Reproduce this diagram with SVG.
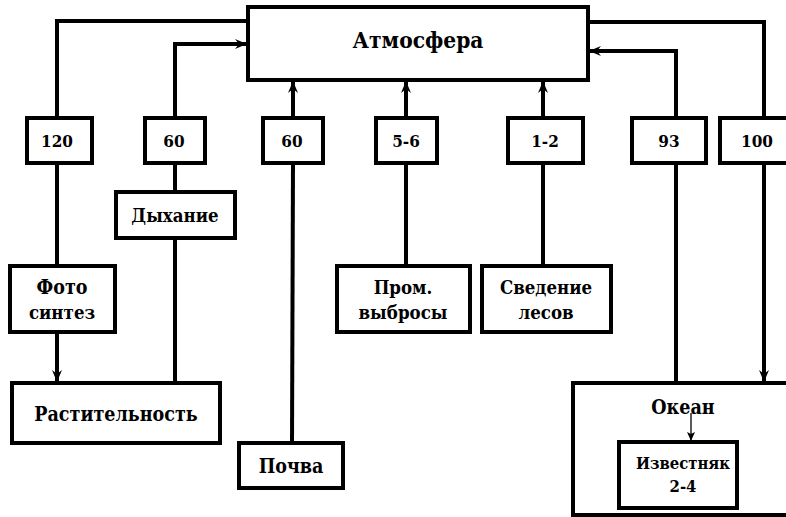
<svg xmlns="http://www.w3.org/2000/svg" width="786" height="517" viewBox="0 0 786 517">
<defs>
<style>
.box{fill:#fff;stroke:#000;stroke-width:4}
.ln{fill:none;stroke:#000;stroke-width:4}
.thin{fill:none;stroke:#000;stroke-width:1.3}
text{font-family:'DejaVu Serif Condensed','DejaVu Serif',serif;font-stretch:condensed;font-weight:bold;fill:#000;text-anchor:middle}
.big{font-size:22.5px}
.lbl{font-size:18.5px}
.lg{font-size:19.5px}
.num{font-size:17px}
.sm{font-size:16.5px}
</style>
<marker id="ah" markerWidth="12" markerHeight="10" refX="11" refY="5" orient="auto" markerUnits="userSpaceOnUse">
<path d="M0,0 L12,5 L0,10 L4,5 z" fill="#000"/>
</marker>
<marker id="ahs" markerWidth="9" markerHeight="10" refX="9" refY="4" orient="auto" markerUnits="userSpaceOnUse">
<path d="M0,0 L9,4 L0,8 L2,4 z" fill="#000"/>
</marker>
</defs>
<g id="connectors">
<polyline class="ln" points="248,21 57,21 57,118"/>
<line class="ln" x1="57" y1="163" x2="57" y2="266"/>
<line class="ln" x1="57" y1="332" x2="57" y2="381" marker-end="url(#ah)"/>
<polyline class="ln" points="175,118 175,44 246,44" marker-end="url(#ah)"/>
<line class="ln" x1="175" y1="163" x2="175" y2="192"/>
<line class="ln" x1="175" y1="238" x2="175" y2="383"/>
<line class="ln" x1="293" y1="118" x2="293" y2="82" marker-end="url(#ah)"/>
<line class="ln" x1="293" y1="163" x2="292" y2="443"/>
<line class="ln" x1="406" y1="118" x2="406" y2="82" marker-end="url(#ah)"/>
<line class="ln" x1="406" y1="163" x2="406" y2="266"/>
<line class="ln" x1="543" y1="118" x2="543" y2="82" marker-end="url(#ah)"/>
<line class="ln" x1="543" y1="163" x2="543" y2="266"/>
<polyline class="ln" points="676,118 676,51 590,51" marker-end="url(#ah)"/>
<line class="ln" x1="676" y1="163" x2="676" y2="383"/>
<polyline class="ln" points="588,22 764,22 764,118"/>
<line class="ln" x1="764" y1="163" x2="764" y2="381" marker-end="url(#ah)"/>
</g>
<g id="atmosfera"><rect class="box" x="248" y="7" width="340" height="73"/><text class="big" x="418" y="48">Атмосфера</text></g>
<g id="n120"><rect class="box" x="27" y="118" width="65" height="45"/><text class="num" x="57" y="147">120</text></g>
<g id="n60a"><rect class="box" x="145" y="118" width="60" height="45"/><text class="num" x="174" y="147">60</text></g>
<g id="n60b"><rect class="box" x="263" y="118" width="60" height="45"/><text class="num" x="292" y="147">60</text></g>
<g id="n56"><rect class="box" x="376" y="118" width="61" height="45"/><text class="num" x="406" y="147">5-6</text></g>
<g id="n12"><rect class="box" x="508" y="118" width="75" height="45"/><text class="num" x="545" y="147">1-2</text></g>
<g id="n93"><rect class="box" x="632" y="118" width="74" height="45"/><text class="num" x="669" y="147">93</text></g>
<g id="n100"><rect class="box" x="720" y="118" width="80" height="45"/><text class="num" x="757" y="147">100</text></g>
<g id="dyhanie"><rect class="box" x="116" y="192" width="119" height="46"/><text class="lbl" x="175" y="222">Дыхание</text></g>
<g id="foto"><rect class="box" x="10" y="266" width="105" height="66"/><text class="lg" x="62" y="294">Фото</text><text class="lbl" x="62" y="319">синтез</text></g>
<g id="prom"><rect class="box" x="337" y="266" width="133" height="66"/><text class="lbl" x="403" y="294">Пром.</text><text class="lbl" x="403" y="319">выбросы</text></g>
<g id="svedenie"><rect class="box" x="482" y="266" width="129" height="66"/><text class="lbl" x="546" y="294">Сведение</text><text class="lbl" x="546" y="319">лесов</text></g>
<g id="rastitelnost"><rect class="box" x="12" y="383" width="208" height="60"/><text class="lg" x="116" y="421">Растительность</text></g>
<g id="pochva"><rect class="box" x="239" y="443" width="104" height="45"/><text class="lg" x="291" y="473">Почва</text></g>
<g id="okean"><rect class="box" x="573" y="383" width="230" height="132"/><text class="lg" x="683" y="414">Океан</text></g>
<g id="izvestnyak"><rect class="box" x="619" y="442" width="118" height="66"/><text class="sm" x="683" y="469">Известняк</text><text class="sm" x="683" y="492">2-4</text></g>
<g id="connectors-inner"><line class="thin" x1="691" y1="413" x2="691" y2="441" marker-end="url(#ahs)"/></g>
</svg>
